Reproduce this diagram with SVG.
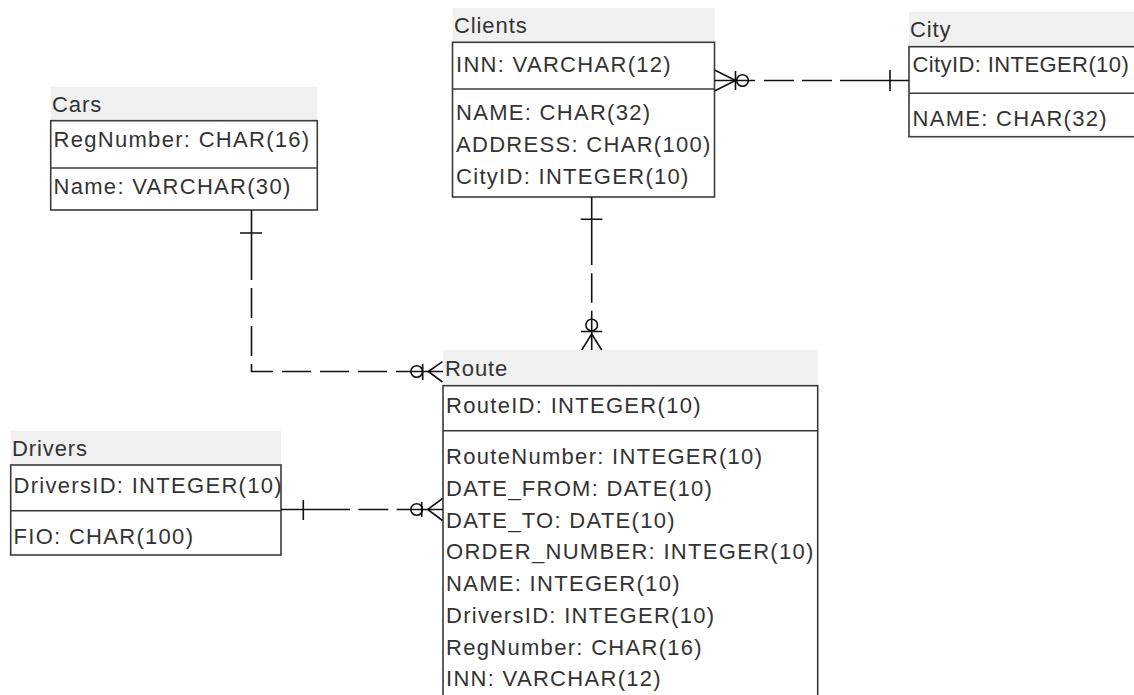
<svg xmlns="http://www.w3.org/2000/svg" width="1134" height="695" viewBox="0 0 1134 695">
<style>
.hdr{fill:#f0f0f0;stroke:none}
.box{fill:#ffffff;stroke:#3a3a3a;stroke-width:1.6}
.sep{stroke:#3a3a3a;stroke-width:1.6}
text{font-family:"Liberation Sans",Arial,sans-serif;font-size:22px;letter-spacing:1.3px;fill:#333333}
.ttl{letter-spacing:0.9px}
.tight{letter-spacing:0.4px}
.c{fill:none;stroke:#111111;stroke-width:1.6}
</style>
<rect width="1134" height="695" fill="#ffffff"/>

<g id="clients">
<rect class="hdr" x="452.5" y="8" width="262" height="34.3"/>
<text class="ttl" x="454" y="33">Clients</text>
<rect class="box" x="452.5" y="42.3" width="262" height="154.7"/>
<line class="sep" x1="452.5" y1="89" x2="714.5" y2="89"/>
<text x="456" y="72">INN: VARCHAR(12)</text>
<text x="456" y="120">NAME: CHAR(32)</text>
<text x="456" y="151.8">ADDRESS: CHAR(100)</text>
<text x="456" y="183.5">CityID: INTEGER(10)</text>
</g>

<g id="city">
<rect class="hdr" x="909" y="11.7" width="240" height="35"/>
<text class="ttl" x="910" y="37">City</text>
<rect class="box" x="909" y="46.7" width="240" height="90"/>
<line class="sep" x1="909" y1="93.3" x2="1149" y2="93.3"/>
<text class="tight" x="912.5" y="72">CityID: INTEGER(10)</text>
<text x="912.5" y="125.5">NAME: CHAR(32)</text>
</g>

<g id="cars">
<rect class="hdr" x="50.7" y="86.7" width="266.6" height="34"/>
<text class="ttl" x="52" y="111.5">Cars</text>
<rect class="box" x="50.7" y="120.7" width="266.6" height="89.3"/>
<line class="sep" x1="50.7" y1="168" x2="317.3" y2="168"/>
<text x="53.5" y="146.5">RegNumber: CHAR(16)</text>
<text x="53.5" y="193.5">Name: VARCHAR(30)</text>
</g>

<g id="drivers">
<rect class="hdr" x="10.7" y="430.7" width="270.3" height="34.3"/>
<text class="ttl" x="12" y="456">Drivers</text>
<rect class="box" x="10.7" y="465" width="270.3" height="90"/>
<line class="sep" x1="10.7" y1="510.7" x2="281" y2="510.7"/>
<text x="13.5" y="492.5">DriversID: INTEGER(10)</text>
<text x="13.5" y="543.5">FIO: CHAR(100)</text>
</g>

<g id="route">
<rect class="hdr" x="443" y="350" width="374.7" height="35.7"/>
<text class="ttl" x="445" y="376">Route</text>
<rect class="box" x="443" y="385.7" width="374.7" height="330"/>
<line class="sep" x1="443" y1="430.7" x2="817.7" y2="430.7"/>
<text x="446" y="412.5">RouteID: INTEGER(10)</text>
<text x="446" y="464">RouteNumber: INTEGER(10)</text>
<text x="446" y="495.7">DATE_FROM: DATE(10)</text>
<text x="446" y="527.5">DATE_TO: DATE(10)</text>
<text x="446" y="559.2">ORDER_NUMBER: INTEGER(10)</text>
<text x="446" y="591">NAME: INTEGER(10)</text>
<text x="446" y="622.7">DriversID: INTEGER(10)</text>
<text x="446" y="654.5">RegNumber: CHAR(16)</text>
<text x="446" y="686">INN: VARCHAR(12)</text>
</g>

<g id="connectors">
<!-- Clients to City -->
<path class="c" d="M714.5,80.5 H909" stroke-dasharray="40.5 9 30 8 30 8 80"/>
<path class="c" d="M714.5,70 L735.5,80.5 L714.5,91 M735.5,71 V90 M890,70 V91"/>
<circle class="c" cx="742.5" cy="80.5" r="5.8"/>
<!-- Clients to Route -->
<path class="c" d="M591.7,197 V350" stroke-dasharray="68 8.3 29.4 8 50"/>
<path class="c" d="M580.7,219.3 H602.3 M581,331.5 H602.3 M581.7,350 L591.7,334 L601.7,350"/>
<circle class="c" cx="591.7" cy="325" r="5.8"/>
<!-- Cars to Route -->
<path class="c" d="M251.5,210 V371.5 H443" stroke-dasharray="70 8 30 8 30 8 29 9 29 9 29 9 29 9 60"/>
<path class="c" d="M240,233 H262 M422.7,364 V380 M442.5,361.7 L428.3,371.5 L442.5,382"/>
<circle class="c" cx="416.7" cy="371.5" r="5.8"/>
<!-- Drivers to Route -->
<path class="c" d="M281,509.5 H443" stroke-dasharray="69 8.3 30 8.4 60"/>
<path class="c" d="M303.3,500 V520 M421.7,502 V517 M442.5,498.5 L427.7,509.5 L442.5,520.5"/>
<circle class="c" cx="416.7" cy="509.5" r="5.8"/>
</g>
</svg>
